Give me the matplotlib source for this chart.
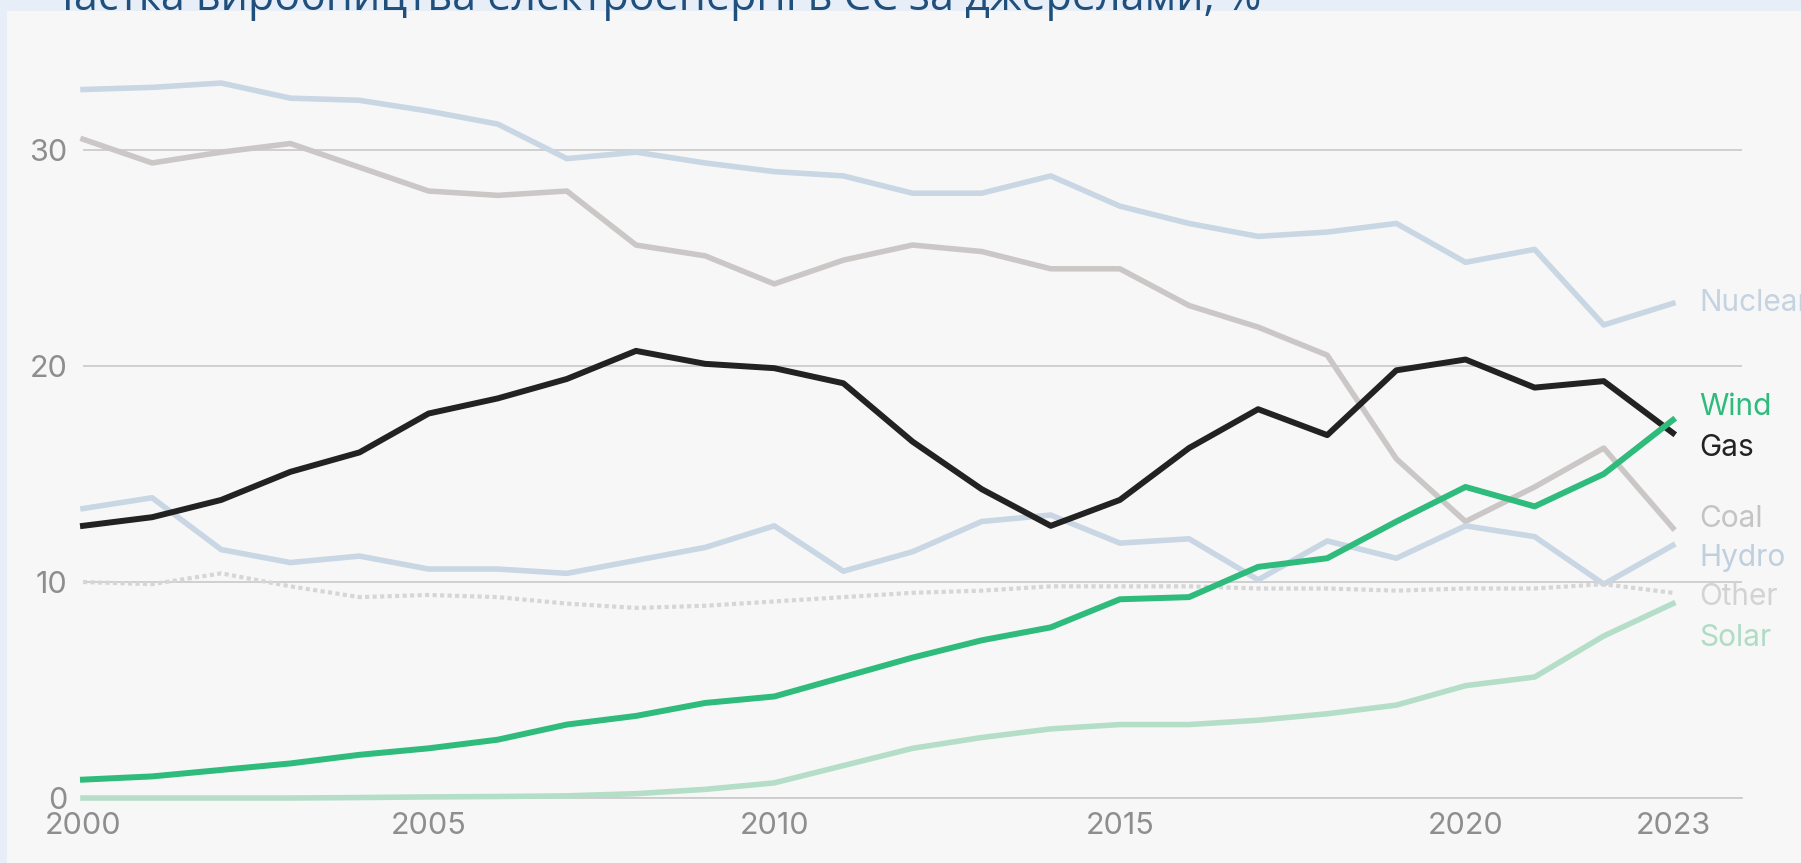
import matplotlib.pyplot as plt

# Частка виробництва електроенергії в ЄС за джерелами, %
years = list(range(2000, 2024))
nuclear = [32.8, 32.9, 33.1, 32.4, 32.3, 31.8, 31.2, 29.6, 29.9, 29.4, 29.0, 28.8,
           28.0, 28.0, 28.8, 27.4, 26.6, 26.0, 26.2, 26.6, 24.8, 25.4, 21.9, 22.9]
coal = [30.5, 29.4, 29.9, 30.3, 29.2, 28.1, 27.9, 28.1, 25.6, 25.1, 23.8, 24.9,
        25.6, 25.3, 24.5, 24.5, 22.8, 21.8, 20.5, 15.7, 12.8, 14.4, 16.2, 12.5]
gas = [12.6, 13.0, 13.8, 15.1, 16.0, 17.8, 18.5, 19.4, 20.7, 20.1, 19.9, 19.2,
       16.5, 14.3, 12.6, 13.8, 16.2, 18.0, 16.8, 19.8, 20.3, 19.0, 19.3, 16.9]
hydro = [13.4, 13.9, 11.5, 10.9, 11.2, 10.6, 10.6, 10.4, 11.0, 11.6, 12.6, 10.5,
         11.4, 12.8, 13.1, 11.8, 12.0, 10.1, 11.9, 11.1, 12.6, 12.1, 9.9, 11.7]
other = [10.0, 9.9, 10.4, 9.8, 9.3, 9.4, 9.3, 9.0, 8.8, 8.9, 9.1, 9.3,
         9.5, 9.6, 9.8, 9.8, 9.8, 9.7, 9.7, 9.6, 9.7, 9.7, 9.9, 9.5]
wind = [0.85, 1.0, 1.3, 1.6, 2.0, 2.3, 2.7, 3.4, 3.8, 4.4, 4.7, 5.6,
        6.5, 7.3, 7.9, 9.2, 9.3, 10.7, 11.1, 12.8, 14.4, 13.5, 15.0, 17.5]
solar = [0.0, 0.0, 0.0, 0.0, 0.02, 0.05, 0.07, 0.1, 0.2, 0.4, 0.7, 1.5,
         2.3, 2.8, 3.2, 3.4, 3.4, 3.6, 3.9, 4.3, 5.2, 5.6, 7.5, 9.0]

names = ['Nuclear', 'Wind', 'Gas', 'Coal', 'Hydro', 'Other', 'Solar']
label_y = [22.9, 18.1, 16.2, 12.9, 11.1, 9.3, 7.4]

W, H = 1801, 863
fig = plt.figure(figsize=(W / 100, H / 100), dpi=100)
fig.patch.set_facecolor('#e7eef8')

# світло-сіра панель під графіком
bg = fig.add_axes([7 / W, 0, 1, 1 - 11 / H])
bg.set_facecolor('#f7f7f7')
bg.set_xticks([])
bg.set_yticks([])
for s in bg.spines.values():
    s.set_visible(False)

fig.text(44 / W, 1 - 10 / H, 'Частка виробництва електроенергії в ЄС за джерелами, %',
         fontsize=31, color='#1f4f7d', family='Open Sans', va='baseline', ha='left', zorder=5)

left, right, bottom, top = 83, 1742, 798, 42
ax = fig.add_axes([left / W, 1 - bottom / H, (right - left) / W, (bottom - top) / H])
ax.set_facecolor('none')

styles = {
    'Nuclear': (nuclear, '#c9d6e3', '-', 4),
    'Coal': (coal, '#cbc7c7', '-', 4),
    'Hydro': (hydro, '#c9d6e3', '-', 4),
    'Other': (other, '#d6d6d6', (0, (1.0, 0.8)), 3),
    'Solar': (solar, '#b4dec8', '-', 4),
    'Gas': (gas, '#222222', '-', 4.3),
    'Wind': (wind, '#2ebb7c', '-', 4.3),
}
label_colors = {'Nuclear': '#c5d3e1', 'Wind': '#2ebb7c', 'Gas': '#222222', 'Coal': '#c4c4c4',
                'Hydro': '#bfcfe0', 'Other': '#d3d3d3', 'Solar': '#b0dcc4'}
for nm in ['Nuclear', 'Coal', 'Hydro', 'Other', 'Solar', 'Gas', 'Wind']:
    vals, col, ls, lw = styles[nm]
    ax.plot(years, vals, color=col, linestyle=ls, linewidth=lw, clip_on=False, zorder=3)

for nm, ly in zip(names, label_y):
    ax.text(2023.38, ly, nm, color=label_colors[nm], fontsize=21.5, family='Inter',
            va='center', ha='left', clip_on=False)

ax.set_xlim(2000, 2024)
ax.set_ylim(0, 35)
ax.set_yticks([0, 10, 20, 30])
ax.set_xticks([2000, 2005, 2010, 2015, 2020, 2023])
ax.grid(axis='y', color='#cccccc', linewidth=1.3, zorder=1)
for s in ['top', 'right', 'left']:
    ax.spines[s].set_visible(False)
ax.spines['bottom'].set_color('#cccccc')
ax.spines['bottom'].set_linewidth(1.3)
ax.tick_params(axis='y', length=0, pad=11, labelsize=22, labelcolor='#8e8e8e')
ax.tick_params(axis='x', length=0, pad=10, labelsize=22, labelcolor='#8e8e8e')
for lab in ax.get_xticklabels() + ax.get_yticklabels():
    lab.set_family('Inter')

fig.savefig('out.png', dpi=100)
